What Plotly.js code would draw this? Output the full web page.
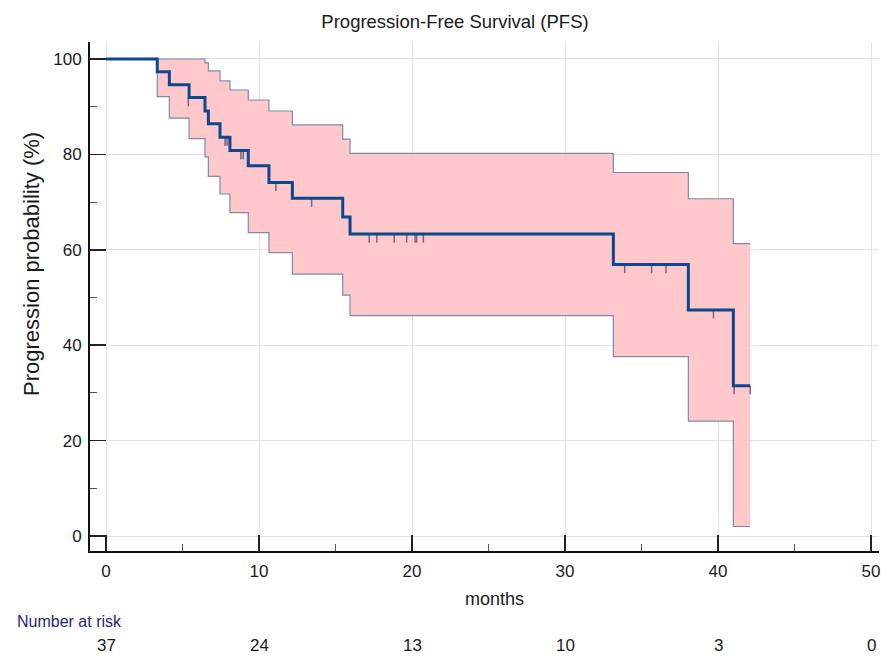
<!DOCTYPE html>
<html><head><meta charset="utf-8">
<script src="https://cdn.plot.ly/plotly-3.0.1.min.js"></script>
<style>html,body{margin:0;padding:0;background:#fff}#chart{width:881px;height:658px}</style>
</head><body><div id="chart"></div>
<script>
// Kaplan-Meier estimate (step points, months / %)
const survTimes  = [0, 3.35, 4.14, 5.43, 6.47, 6.69, 7.45, 8.1, 9.3, 10.65, 12.18, 15.47, 15.95, 33.16, 38.06, 41.0, 42.1];
const survValues = [100, 97.3, 94.6, 91.9, 89.1, 86.4, 83.6, 80.8, 77.6, 74.1, 70.8, 66.9, 63.3, 56.9, 47.4, 31.5, 31.5];
// 95% confidence band
const upperTimes  = [0, 6.47, 6.69, 7.45, 8.1, 9.3, 10.65, 12.18, 15.47, 15.95, 33.16, 38.06, 41.0, 42.1];
const upperValues = [100, 99.2, 97.5, 95.4, 93.5, 91.4, 89.1, 86.2, 83.2, 80.2, 76.2, 70.7, 61.3, 61.3];
const lowerTimes  = [0, 3.35, 4.14, 5.43, 6.47, 6.69, 7.45, 8.1, 9.3, 10.65, 12.18, 15.47, 15.95, 33.16, 38.06, 41.0, 42.1];
const lowerValues = [100, 92.1, 87.6, 83.3, 79.5, 75.4, 71.7, 67.8, 63.6, 59.4, 54.9, 50.5, 46.2, 37.6, 24.1, 2.0, 2.0];
// censored observations
const censorTimes  = [5.38, 7.78, 7.91, 8.82, 8.97, 11.1, 13.44, 17.2, 17.7, 18.84, 19.65, 20.2, 20.3, 20.74, 33.9, 35.66, 36.6, 39.7, 41.05, 42.1];
const censorValues = [91.9, 83.6, 83.6, 80.8, 80.8, 74.1, 70.8, 63.3, 63.3, 63.3, 63.3, 63.3, 63.3, 63.3, 56.9, 56.9, 56.9, 47.4, 31.5, 31.5];
// number at risk
const riskTimes  = [0, 10, 20, 30, 40, 50];
const riskCounts = [37, 24, 13, 10, 3, 0];

const FONT = 'Liberation Sans, Arial, sans-serif';
const bandLine = 'rgb(125,138,175)';
const TXT = '#1a1a1a';

const traces = [
  {x: lowerTimes, y: lowerValues, type: 'scatter', mode: 'lines',
   line: {shape: 'hv', color: bandLine, width: 1.2}, hoverinfo: 'skip', showlegend: false},
  {x: upperTimes, y: upperValues, type: 'scatter', mode: 'lines', fill: 'tonexty',
   fillcolor: 'rgba(255,195,198,0.92)',
   line: {shape: 'hv', color: bandLine, width: 1.2}, hoverinfo: 'skip', showlegend: false},
  {x: censorTimes, y: censorValues, type: 'scatter', mode: 'markers',
   marker: {size: 2, color: 'rgba(0,0,0,0)'},
   error_y: {type: 'constant', symmetric: false, value: 0, valueminus: 1.8, width: 0,
             color: 'rgb(115,100,135)', thickness: 1.5},
   hoverinfo: 'skip', showlegend: false},
  {x: survTimes, y: survValues, type: 'scatter', mode: 'lines',
   line: {shape: 'hv', color: 'rgb(12,72,145)', width: 3}, showlegend: false}
];

const annotations = riskTimes.map((t, i) => ({
  x: t, xref: 'x', y: (551 - 645) / 509, yref: 'paper', text: String(riskCounts[i]),
  showarrow: false, xanchor: 'center', yanchor: 'middle',
  font: {family: FONT, size: 17, color: TXT}
}));
annotations.push({
  x: (15 - 90) / 789, xref: 'paper', xanchor: 'left', y: (551 - 621) / 509, yref: 'paper', yanchor: 'middle',
  text: 'Number at risk', showarrow: false, font: {family: FONT, size: 16, color: '#1f1f7a'}
}, {
  x: (495 - 90) / 789, xref: 'paper', xanchor: 'center', y: (551 - 599) / 509, yref: 'paper', yanchor: 'middle',
  text: 'months', showarrow: false, font: {family: FONT, size: 18, color: TXT}
}, {
  x: (31 - 90) / 789, xref: 'paper', xanchor: 'center', y: (551 - 264) / 509, yref: 'paper', yanchor: 'middle',
  text: 'Progression probability (%)', textangle: -90, showarrow: false,
  font: {family: FONT, size: 22, color: TXT}
});

const layout = {
  width: 881, height: 658,
  margin: {l: 90, r: 2, t: 42, b: 107},
  paper_bgcolor: '#fff', plot_bgcolor: '#fff',
  title: {text: 'Progression-Free Survival (PFS)', x: 455 / 881, xref: 'container', xanchor: 'center',
          y: 1 - 22 / 658, yref: 'container', yanchor: 'middle',
          font: {family: FONT, size: 18.5, color: TXT}},
  xaxis: {
    range: [-1.046, 50.52], tickmode: 'array', tickvals: riskTimes, ticktext: riskTimes.map(String),
    showline: true, linecolor: '#111', linewidth: 2, mirror: false,
    ticks: 'inside', ticklen: 16, tickwidth: 1.5, tickcolor: '#222',
    minor: {dtick: 5, tick0: 0, ticks: 'inside', ticklen: 7, tickwidth: 1, tickcolor: '#555', showgrid: false},
    showgrid: true, gridcolor: '#e3e3e3', gridwidth: 1, zeroline: false,
    tickfont: {family: FONT, size: 17, color: TXT}, ticklabelstandoff: 4, ticklabeloverflow: 'allow'
  },
  yaxis: {
    range: [-3.14, 103.56], tickmode: 'array', tickvals: [0, 20, 40, 60, 80, 100],
    showline: true, linecolor: '#111', linewidth: 2, mirror: false,
    ticks: 'inside', ticklen: 16, tickwidth: 1.5, tickcolor: '#222',
    minor: {dtick: 10, tick0: 0, ticks: 'inside', ticklen: 7, tickwidth: 1, tickcolor: '#555', showgrid: false},
    showgrid: true, gridcolor: '#e3e3e3', gridwidth: 1, zeroline: false,
    tickfont: {family: FONT, size: 17, color: TXT}, ticklabelstandoff: 3
  },
  annotations: annotations,
  showlegend: false
};

Plotly.newPlot('chart', traces, layout, {staticPlot: true, displayModeBar: false});
</script>
</body></html>
